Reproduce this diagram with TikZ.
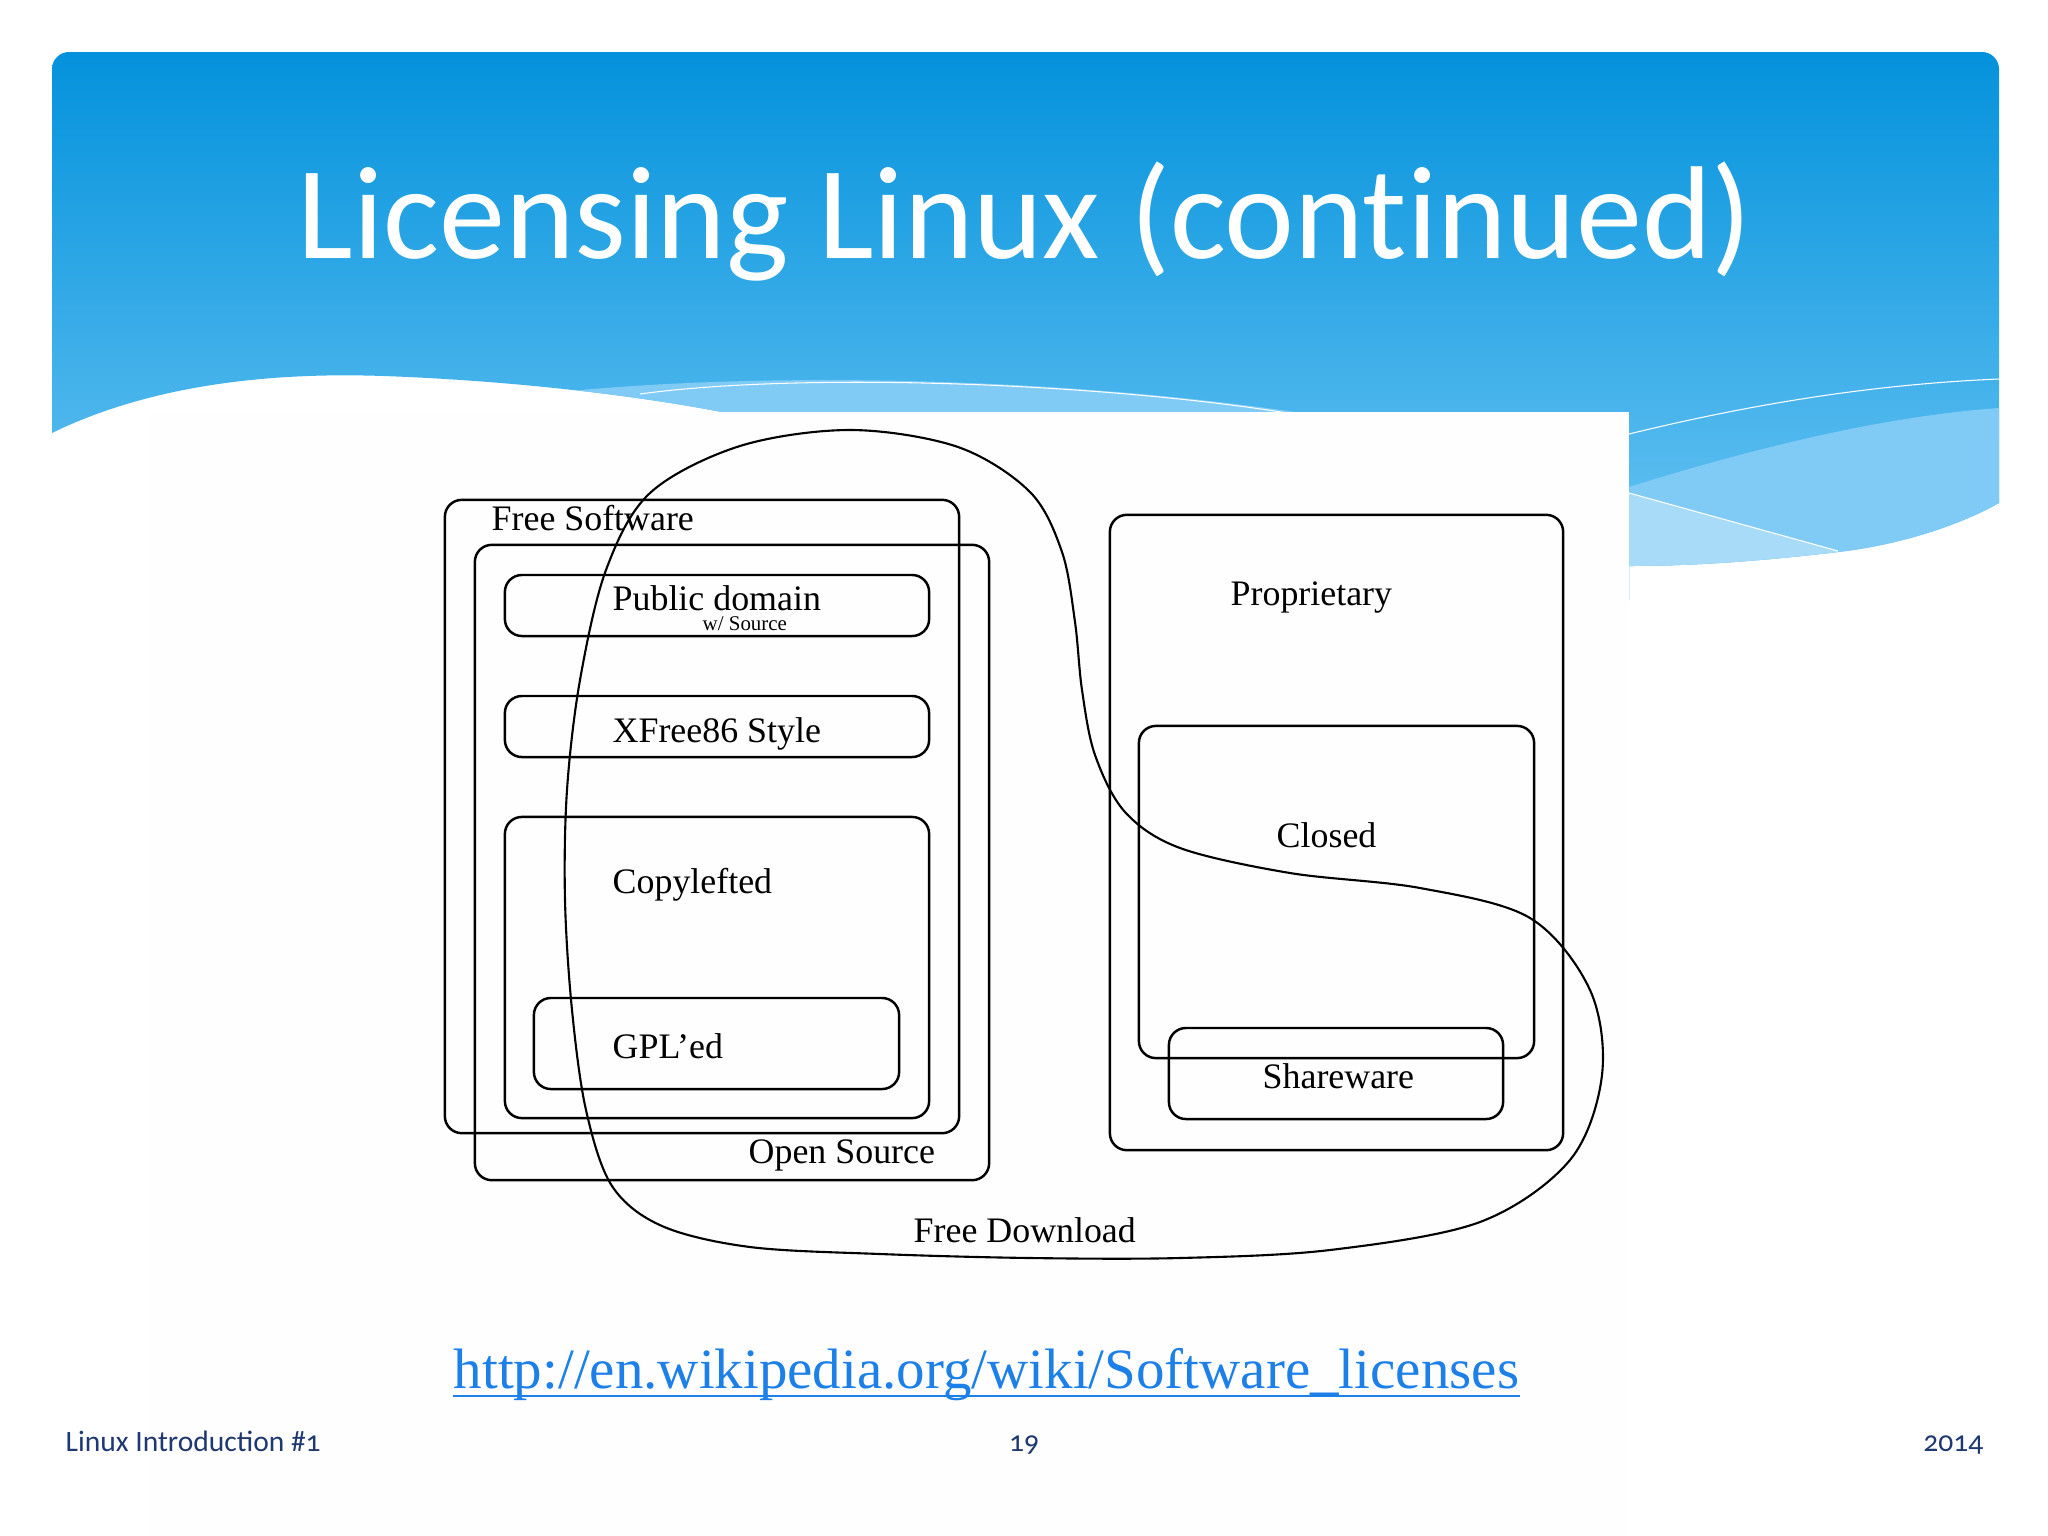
\documentclass[tikz,border=0pt]{standalone}
\usepackage{fontspec}
\setmainfont{Liberation Serif}
\newfontfamily\slidefont[Ligatures=NoCommon]{Carlito}
\newfontfamily\footfont[Numbers=OldStyle]{Carlito}
\usepackage{tikz}
\usetikzlibrary{positioning}

\definecolor{skytop}{RGB}{4,146,220}
\definecolor{skymid}{RGB}{66,176,238}
\definecolor{skybot}{RGB}{110,199,244}
\definecolor{skyband}{RGB}{128,203,245}
\definecolor{skypale}{RGB}{168,219,248}
\definecolor{linkblue}{RGB}{28,128,232}
\definecolor{footnavy}{RGB}{30,56,112}
\definecolor{paper}{RGB}{254,254,255}

\begin{document}
\begin{tikzpicture}[
        x=0.01cm, y=-0.01cm,
        region/.style={draw, line width=0.7pt, rounded corners=0.17cm, inner sep=0pt},
        label/.style={font=\fontsize{10.2}{12}\selectfont, anchor=base west, inner sep=0pt},
        footer/.style={font=\footfont\fontsize{8.4}{10}\selectfont, text=footnavy, inner sep=0pt}
    ]
        \useasboundingbox (0,0) rectangle (2048,1536);
        \fill[white] (0,0) rectangle (2048,1536);

        \begin{scope}
            \clip[rounded corners=0.17cm] (52,52) rectangle (1999,900);
            \clip (52,433) .. controls (150,385) and (270,372) .. (383,376) .. controls (500,380) and (650,395) .. (760,420) -- (760,600) -- (1629,600) -- (1629,566) .. controls (1700,566) and (1770,560) .. (1838,552) .. controls (1900,545) and (1960,525) .. (1999,503) -- (1999,40) -- (40,40) -- cycle;
            \shade[top color=skytop, middle color=skymid, bottom color=skybot] (52,52) rectangle (1999,600);
            \fill[skyband] (560,392) .. controls (800,368) and (1150,380) .. (1400,430) -- (1629,487) .. controls (1780,440) and (1900,415) .. (1999,408) -- (1999,700) -- (500,700) -- cycle;
            \fill[skypale] (1629,493) -- (1838,551) -- (1838,700) -- (1629,700) -- cycle;
            \draw[white, line width=0.3pt] (640,394) .. controls (800,372) and (1100,382) .. (1300,415);
            \draw[white, line width=0.3pt] (1629,434) .. controls (1760,402) and (1880,384) .. (1999,379);
            \draw[white, line width=0.3pt] (1629,493) -- (1838,551);
        \end{scope}
        \fill[paper] (150,412) rectangle (1629,1536);

        \node[font=\slidefont\fontsize{37.6}{40}\selectfont, text=white, anchor=base, inner sep=0pt] (title) at (1025,258) {Licensing Linux (continued)};

        \node[region, minimum width=5.14cm, minimum height=6.33cm] (freesw) at (702,816.5) {};
        \node[region, minimum width=5.14cm, minimum height=6.35cm] (opensrc) at (732,862.5) {};
        \node[region, minimum width=4.24cm, minimum height=0.61cm] (pubdom) at (717,605.5) {};
        \node[region, minimum width=4.24cm, minimum height=0.61cm] (xfree) at (717,726.5) {};
        \node[region, minimum width=4.24cm, minimum height=3.01cm] (copyleft) at (717,967.5) {};
        \node[region, minimum width=3.65cm, minimum height=0.91cm] (gpl) at (716.5,1043.5) {};
        \node[region, minimum width=4.53cm, minimum height=6.35cm] (propr) at (1336.5,832.5) {};
        \node[region, minimum width=3.95cm, minimum height=3.32cm] (closed) at (1336.5,892) {};
        \node[region, minimum width=3.34cm, minimum height=0.91cm] (sharew) at (1336,1073.5) {};

        \draw[line width=0.6pt] plot[smooth cycle, tension=0.55] coordinates {
            (851,430) (958,447) (1030,492) (1062,552) (1075,622) (1082,690) (1095,755)
            (1125,812) (1180,848) (1290,873) (1420,888) (1530,918) (1590,990) (1602,1075)
            (1570,1160) (1480,1222) (1330,1250) (1180,1258) (1030,1258) (880,1254) (750,1247)
            (662,1226) (612,1186) (586,1110) (572,1010) (565,900) (567,790) (580,680)
            (606,570) (650,493) (740,446)};

        \node[label] (freesw-txt) at (491,530) {Free Software};
        \node[label] (pubdom-txt) at (612,610) {Public domain};
        \node[label, font=\fontsize{5.95}{7}\selectfont] (source-txt) at (702,630) {w/ Source};
        \node[label] (xfree-txt) at (612,742) {XFree86 Style};
        \node[label] (copyleft-txt) at (612,893) {Copylefted};
        \node[label] (gpl-txt) at (612,1058) {GPL'ed};
        \node[label] (opensrc-txt) at (748,1163) {Open Source};
        \node[label] (download-txt) at (913,1242) {Free Download};
        \node[label] (propr-txt) at (1230,605) {Proprietary};
        \node[label] (closed-txt) at (1276,847) {Closed};
        \node[label] (sharew-txt) at (1262,1088) {Shareware};

        \node[font=\fontsize{16.2}{19}\selectfont, text=linkblue, anchor=base west, inner sep=0pt] (wikilink) at (453,1388) {http://en.wikipedia.org/wiki/Software\_licenses};
        \draw[linkblue, line width=0.8pt] ([yshift=-0.08cm]wikilink.base west) -- ([yshift=-0.08cm]wikilink.base east);

        \node[footer, anchor=base west] (course) at (65,1451) {Linux Introduction \#1};
        \node[footer, anchor=base] (pagenum) at (1024,1451) {19};
        \node[footer, anchor=base east] (year) at (1984,1451) {2014};
    \end{tikzpicture}
\end{document}
